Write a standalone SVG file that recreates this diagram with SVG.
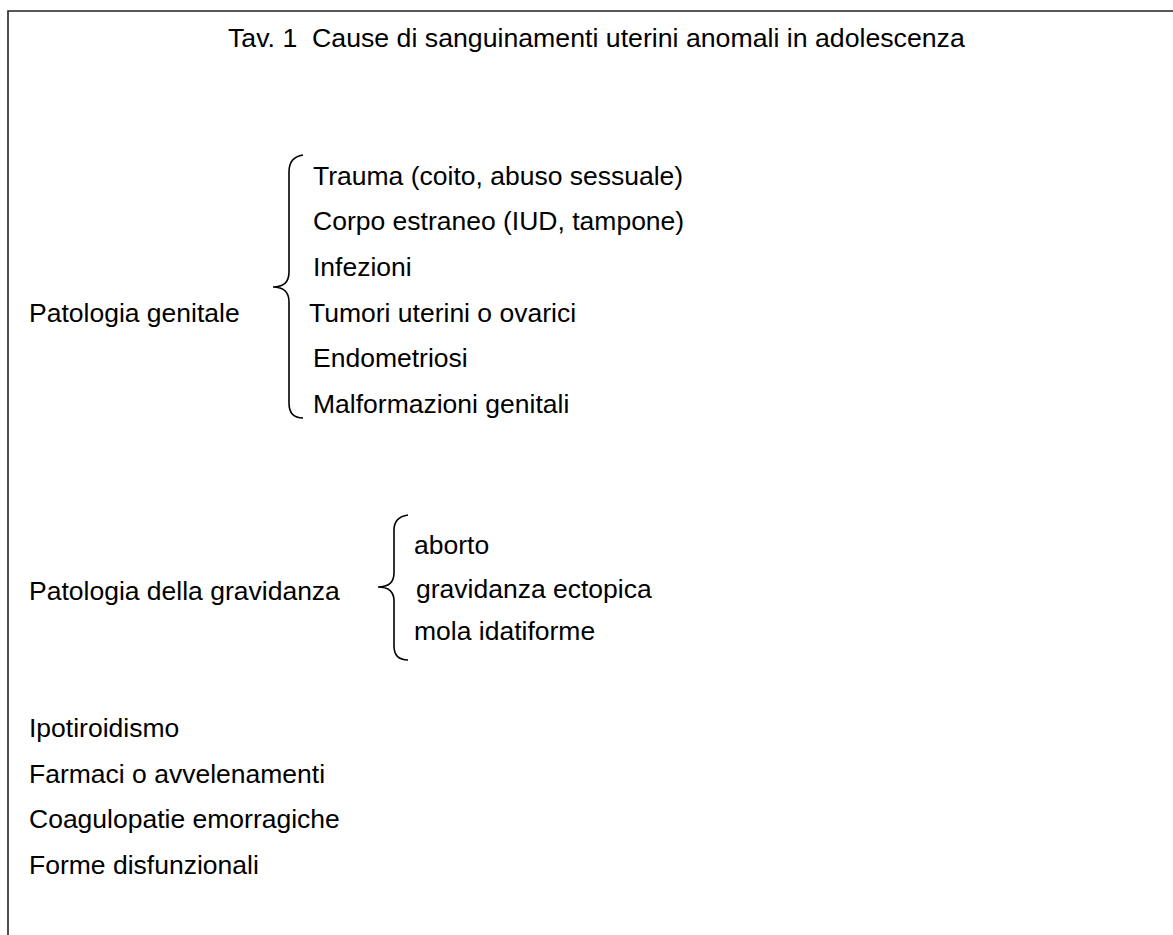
<svg xmlns="http://www.w3.org/2000/svg" width="1173" height="935" viewBox="0 0 1173 935">
<style>
text{font-family:"Liberation Sans",Arial,sans-serif;font-size:26.5px;fill:#000;white-space:pre}
.title{font-size:26.7px}
.frame{fill:none;stroke:#222;stroke-width:1.6}
.brace{fill:none;stroke:#000;stroke-width:1.6}
</style>
<rect width="1173" height="935" fill="#fff"/>
<path class="frame" d="M8,935 V11 H1173"/>
<g id="title"><text class="title" x="228" y="47" xml:space="preserve">Tav. 1  Cause di sanguinamenti uterini anomali in adolescenza</text></g>
<g id="genitale">
<text x="29" y="322">Patologia genitale</text>
</g>
<g id="genitale-items">
<text x="313" y="185">Trauma (coito, abuso sessuale)</text>
<text x="313" y="230">Corpo estraneo (IUD, tampone)</text>
<text x="313" y="276">Infezioni</text>
<text x="309" y="322">Tumori uterini o ovarici</text>
<text x="313" y="367">Endometriosi</text>
<text x="313" y="413">Malformazioni genitali</text>
</g>
<g id="gravidanza">
<text x="29" y="600">Patologia della gravidanza</text>
</g>
<g id="gravidanza-items">
<text x="414" y="554">aborto</text>
<text x="416" y="598">gravidanza ectopica</text>
<text x="414" y="640">mola idatiforme</text>
</g>
<g id="altre">
<text x="29" y="737">Ipotiroidismo</text>
<text x="29" y="783">Farmaci o avvelenamenti</text>
<text x="29" y="828">Coagulopatie emorragiche</text>
<text x="29" y="874">Forme disfunzionali</text>
</g>
<g id="connectors">
<path class="brace" d="M303,155 Q289,157 289,172 L289,272 Q289,287 273,287 Q289,287 289,302 L289,403 Q289,418 303,418"/>
<path class="brace" d="M408,515 Q394,517 394,530 L394,573 Q394,587 378,587 Q394,587 394,601 L394,646 Q394,660 408,660"/>
</g>
</svg>
